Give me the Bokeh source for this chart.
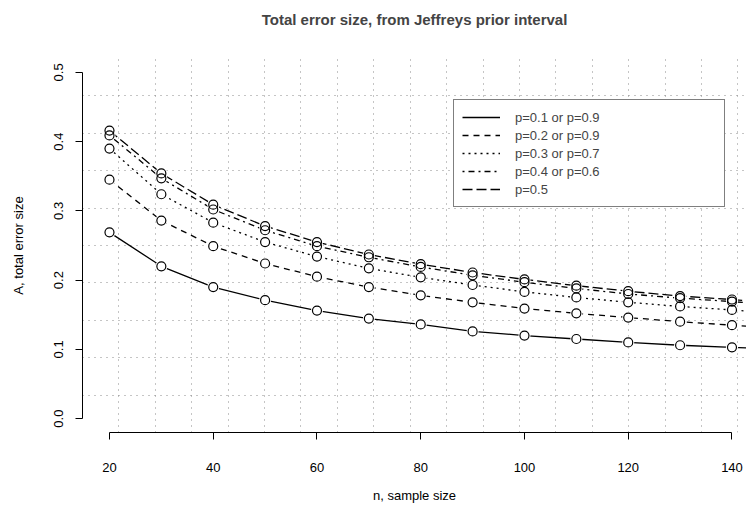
import numpy as np
from bokeh.plotting import figure
from bokeh.models import Range1d, FixedTicker, Legend, LegendItem, Grid, NumeralTickFormatter
from bokeh.embed import file_html
from bokeh.resources import INLINE

# ---- data ----
n = [20, 30, 40, 50, 60, 70, 80, 90, 100, 110, 120, 130, 140, 150]
p01 = [0.269, 0.220, 0.190, 0.171, 0.156, 0.1445, 0.136, 0.126, 0.120, 0.115, 0.110, 0.106, 0.103, 0.0995]
p02 = [0.345, 0.286, 0.249, 0.224, 0.205, 0.190, 0.178, 0.168, 0.159, 0.152, 0.146, 0.140, 0.135, 0.130]
p03 = [0.390, 0.324, 0.283, 0.255, 0.234, 0.217, 0.204, 0.193, 0.183, 0.175, 0.168, 0.162, 0.157, 0.151]
p04 = [0.409, 0.347, 0.302, 0.272, 0.249, 0.233, 0.219, 0.207, 0.197, 0.188, 0.180, 0.174, 0.169, 0.163]
p05 = [0.416, 0.354, 0.309, 0.278, 0.255, 0.237, 0.223, 0.211, 0.201, 0.192, 0.184, 0.177, 0.172, 0.166]
labels = ["p=0.1 or p=0.9", "p=0.2 or p=0.9", "p=0.3 or p=0.7", "p=0.4 or p=0.6", "p=0.5"]
x_ticks = [20, 40, 60, 80, 100, 120, 140]
y_ticks = [0.0, 0.1, 0.2, 0.3, 0.4, 0.5]
title_text = "Total error size, from Jeffreys prior interval"
x_title = "n, sample size"
y_title = "A, total error size"

# ---- styles ----
dashes = ["solid", "6 5", "2 4", "2 4 6 4", "10 4"]
FONT = "Liberation Sans"

# R-style usr ranges (4% extension); the reference is cropped on the right
x_lo_data, x_hi_data = min(n), max(n)
ext = 0.04 * (x_hi_data - x_lo_data)
x_lo, x_hi_full = x_lo_data - ext, x_hi_data + ext
x_view_hi = 142.8
y_lo_data, y_hi_data = 0.0, 0.5
yext = 0.04 * (y_hi_data - y_lo_data)
y_lo, y_hi = y_lo_data - yext, y_hi_data + yext

p = figure(width=746, height=508, output_backend="svg", toolbar_location=None,
           x_range=Range1d(x_lo, x_view_hi), y_range=Range1d(y_lo, y_hi),
           min_border_left=82, min_border_right=0, min_border_top=58, min_border_bottom=76,
           title=title_text)
p.outline_line_color = None
p.background_fill_color = "white"
p.border_fill_color = "white"

p.title.text_font = FONT
p.title.text_font_size = "15px"
p.title.text_font_style = "bold"
p.title.align = "center"
p.title.offset = 16
p.title.standoff = 8
p.title.padding = dict(left=0, right=0, top=0, bottom=27)

# grids like R's grid(20, 10)
p.xgrid.visible = False
p.ygrid.visible = False
gx = list(np.linspace(x_lo, x_hi_full, 21))
gy = list(np.linspace(y_lo, y_hi, 11))
p.add_layout(Grid(dimension=0, ticker=FixedTicker(ticks=gx), grid_line_color="#8a8a8a",
                  grid_line_dash="1 5", grid_line_width=1))
p.add_layout(Grid(dimension=1, ticker=FixedTicker(ticks=gy), grid_line_color="#8a8a8a",
                  grid_line_dash="1 5", grid_line_width=1))

for ax in (p.xaxis[0], p.yaxis[0]):
    ax.axis_line_color = "black"
    ax.axis_line_width = 1
    ax.major_tick_line_color = "black"
    ax.major_tick_out = 7
    ax.major_tick_in = 0
    ax.minor_tick_line_color = None
    ax.major_label_text_font = FONT
    ax.major_label_text_font_size = "13px"
    ax.major_label_text_color = "black"
    ax.major_label_text_line_height = 1.0
    ax.axis_label_text_font = FONT
    ax.axis_label_text_font_size = "13px"
    ax.axis_label_text_font_style = "normal"
    ax.axis_label_text_color = "black"
    ax.axis_label_text_line_height = 1.0

p.xaxis.ticker = FixedTicker(ticks=x_ticks)
p.xaxis.bounds = (x_ticks[0], x_ticks[-1])
p.xaxis.axis_label = x_title
p.xaxis.major_label_standoff = 23
p.xaxis.axis_label_standoff = 13

p.yaxis.ticker = FixedTicker(ticks=y_ticks)
p.yaxis.bounds = (y_ticks[0], y_ticks[-1])
p.yaxis.formatter = NumeralTickFormatter(format="0.0")
p.yaxis.major_label_orientation = "vertical"
p.yaxis.axis_label = y_title
p.yaxis.major_label_standoff = 12
p.yaxis.axis_label_standoff = 26

series = [p01, p02, p03, p04, p05]
items = []
for vals, dash, lab in zip(series, dashes, labels):
    r = p.line(n, vals, line_color="black", line_width=1.3, line_dash=dash)
    items.append(LegendItem(label=lab, renderers=[r]))
for vals in series:
    p.scatter(n, vals, size=12, marker="circle", fill_color="white", line_color=None)
for vals in series:
    p.scatter(n, vals, size=9, marker="circle", fill_color=None, line_color="black", line_width=1.2)

legend = Legend(items=items, location=(371, 225), border_line_color="black", border_line_width=1,
                background_fill_color="white", background_fill_alpha=1.0, padding=8, spacing=0,
                label_height=18, glyph_height=18, glyph_width=38, label_standoff=15,
                label_width=201, label_text_font=FONT, label_text_font_size="13px", margin=0)
p.add_layout(legend)

open("out.html", "w").write(file_html(p, INLINE))
